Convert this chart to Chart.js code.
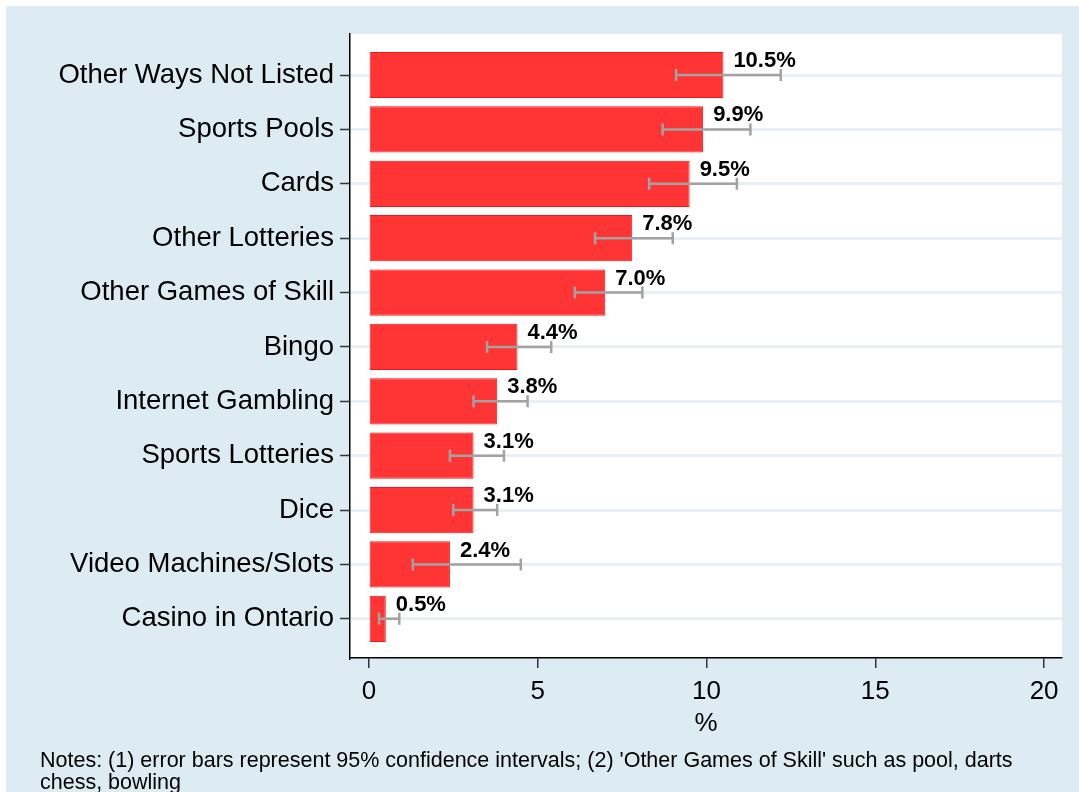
<!DOCTYPE html>
<html>
<head>
<meta charset="utf-8">
<script src="https://cdn.jsdelivr.net/npm/chart.js@4.4.1/dist/chart.umd.min.js"></script>
<style>
  html, body { margin: 0; padding: 0; background: #fff; }
  #wrap { width: 1079px; height: 792px; }
</style>
</head>
<body>
<div id="wrap"><canvas id="gamblingChart" width="1079" height="792"></canvas></div>
<script>
const categories = [
  "Other Ways Not Listed",
  "Sports Pools",
  "Cards",
  "Other Lotteries",
  "Other Games of Skill",
  "Bingo",
  "Internet Gambling",
  "Sports Lotteries",
  "Dice",
  "Video Machines/Slots",
  "Casino in Ontario",
];
const shares = [10.5, 9.9, 9.5, 7.8, 7.0, 4.4, 3.8, 3.1, 3.1, 2.4, 0.5];
// 95% confidence interval ends
const ciLow = [9.1, 8.7, 8.3, 6.7, 6.1, 3.5, 3.1, 2.4, 2.5, 1.3, 0.3];
const ciHigh = [12.2, 11.3, 10.9, 9.0, 8.1, 5.4, 4.7, 4.0, 3.8, 4.5, 0.9];
const xTicks = [0, 5, 10, 15, 20];
const notes = [
  "Notes: (1) error bars represent 95% confidence intervals; (2) 'Other Games of Skill' such as pool, darts",
  "chess, bowling",
];

Chart.defaults.font.family = '"Liberation Sans", Arial, sans-serif';

// light blue frame + white plot region
const background = {
  id: "background",
  beforeDraw(chart) {
    const { ctx, width, height, chartArea } = chart;
    ctx.save();
    ctx.fillStyle = "#ffffff";
    ctx.fillRect(0, 0, width, height);
    ctx.fillStyle = "#ddecf3";
    ctx.fillRect(6, 6, width - 6, height - 6);
    ctx.fillStyle = "#ffffff";
    ctx.fillRect(chartArea.left, chartArea.top, chartArea.right - chartArea.left, chartArea.bottom - chartArea.top);
    ctx.restore();
  },
};

const errorBars = {
  id: "errorBars",
  afterDatasetsDraw(chart) {
    const { ctx } = chart;
    const xs = chart.scales.x;
    const ys = chart.scales.y;
    ctx.save();
    ctx.strokeStyle = "#a2a2a2";
    ctx.lineWidth = 2.5;
    categories.forEach((c, i) => {
      const y = ys.getPixelForValue(i);
      const x0 = xs.getPixelForValue(ciLow[i]);
      const x1 = xs.getPixelForValue(ciHigh[i]);
      ctx.beginPath();
      ctx.moveTo(x0, y);
      ctx.lineTo(x1, y);
      ctx.moveTo(x0, y - 6);
      ctx.lineTo(x0, y + 6);
      ctx.moveTo(x1, y - 6);
      ctx.lineTo(x1, y + 6);
      ctx.stroke();
    });
    ctx.restore();
  },
};

const valueLabels = {
  id: "valueLabels",
  afterDatasetsDraw(chart) {
    const { ctx } = chart;
    const xs = chart.scales.x;
    const ys = chart.scales.y;
    ctx.save();
    ctx.fillStyle = "#000";
    ctx.font = 'bold 22px "Liberation Sans", Arial, sans-serif';
    ctx.textAlign = "left";
    ctx.textBaseline = "middle";
    shares.forEach((v, i) => {
      ctx.fillText(v.toFixed(1) + "%", xs.getPixelForValue(v) + 10, ys.getPixelForValue(i) - 14);
    });
    ctx.restore();
  },
};

const ctx = document.getElementById("gamblingChart").getContext("2d");
new Chart(ctx, {
  type: "bar",
  data: {
    datasets: [
      {
        data: shares.map((v, i) => ({ x: v, y: i })),
        backgroundColor: "#ff3434",
        borderColor: "#ff1414",
        borderWidth: 1,
        borderSkipped: false,
        barPercentage: 0.85,
        categoryPercentage: 1,
      },
    ],
  },
  options: {
    indexAxis: "y",
    responsive: false,
    animation: false,
    layout: { padding: { left: 40, right: 17, top: 34, bottom: 0 } },
    plugins: {
      legend: { display: false },
      tooltip: { enabled: false },
      subtitle: {
        display: true,
        text: notes,
        position: "bottom",
        align: "start",
        color: "#000",
        font: { size: 21.5, weight: "normal", lineHeight: "22px" },
        padding: { top: 2, bottom: -2 },
      },
    },
    scales: {
      x: {
        type: "linear",
        min: -0.56,
        max: 20.53,
        afterBuildTicks: (s) => {
          s.ticks = xTicks.map((v) => ({ value: v }));
        },
        afterFit: (s) => {
          s.height = 90;
        },
        ticks: { color: "#000", font: { size: 26 }, padding: 8, maxRotation: 0, autoSkip: false },
        grid: { drawOnChartArea: false, drawTicks: true, tickLength: 10, color: "#333", lineWidth: 1.5 },
        border: { display: true, color: "#000", width: 1.5 },
        title: { display: true, text: "%", color: "#000", font: { size: 26 }, padding: { top: 0, bottom: 9 } },
      },
      y: {
        type: "linear",
        reverse: true,
        offset: false,
        min: -0.754,
        max: 10.72,
        afterBuildTicks: (s) => {
          s.ticks = categories.map((c, i) => ({ value: i }));
        },
        afterFit: (s) => {
          s.width = 310;
        },
        ticks: {
          color: "#000",
          font: { size: 27.5 },
          padding: 6,
          autoSkip: false,
          callback: (v) => categories[v],
        },
        grid: { offset: false, color: "#e8f0f3", lineWidth: 3, tickColor: "#333", tickWidth: 1.5, tickLength: 10 },
        border: { display: true, color: "#000", width: 1.5 },
      },
    },
  },
  plugins: [background, errorBars, valueLabels],
});
</script>
</body>
</html>
